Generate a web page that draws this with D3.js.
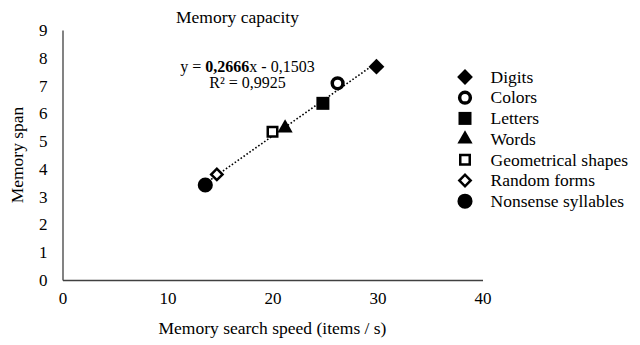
<!DOCTYPE html>
<html>
<head>
<meta charset="utf-8">
<script src="https://cdn.jsdelivr.net/npm/d3@7"></script>
<style>
  body { margin: 0; background: #fff; }
  svg { font-family: "Liberation Serif", "Times New Roman", serif; }
</style>
</head>
<body>
<div id="chart"></div>
<script>
// data
const categories = ["Digits", "Colors", "Letters", "Words", "Geometrical shapes", "Random forms", "Nonsense syllables"];
const searchSpeed = [29.9, 26.2, 24.8, 21.2, 20.0, 14.7, 13.6];
const memorySpan = [7.68, 7.08, 6.36, 5.47, 5.34, 3.80, 3.42];
const xTicks = [0, 10, 20, 30, 40];
const yTicks = [0, 1, 2, 3, 4, 5, 6, 7, 8, 9];
const trendSlope = 0.2666;
const trendIntercept = -0.1503;
const trendR2 = 0.9925;

// marker look per category (same order)
const markers = [
    { type: d3.symbolSquare, size: 125, rot: 45, fill: "#000", sw: 0 },
    { type: d3.symbolCircle, size: 90, rot: 0, fill: "#fff", sw: 3.5 },
    { type: d3.symbolSquare, size: 169, rot: 0, fill: "#000", sw: 0 },
    { type: d3.symbolTriangle, size: 100, rot: 0, fill: "#000", sw: 0 },
    { type: d3.symbolSquare, size: 90, rot: 0, fill: "#fff", sw: 2.5 },
    { type: d3.symbolSquare, size: 64, rot: 45, fill: "#fff", sw: 2.5 },
    { type: d3.symbolCircle, size: 180, rot: 0, fill: "#000", sw: 0 }
];

const width = 640, height = 345;
const svg = d3.select("#chart").append("svg")
    .attr("width", width)
    .attr("height", height);

const x = d3.scaleLinear().domain([0, 40]).range([62.5, 482.5]);
const y = d3.scaleLinear().domain([0, 9]).range([280, 30]);

const fmt = v => d3.format(".4f")(v).replace(".", ",");

// axes (no tick marks, just lines + labels)
const xAxis = svg.append("g")
    .attr("transform", "translate(0," + y(0) + ")")
    .call(d3.axisBottom(x).tickValues(xTicks).tickSize(0).tickPadding(12));
const yAxis = svg.append("g")
    .attr("transform", "translate(" + x(0) + ",0)")
    .call(d3.axisLeft(y).tickValues(yTicks).tickSize(0).tickPadding(15));

[xAxis, yAxis].forEach(a => {
    a.select(".domain").attr("stroke", "#404040").attr("stroke-width", 1.3);
    a.selectAll("text")
        .attr("font-family", "Liberation Serif")
        .attr("font-size", 17)
        .attr("fill", "#000");
});

// titles
svg.append("text")
    .attr("x", 237.5).attr("y", 23)
    .attr("text-anchor", "middle")
    .attr("font-size", 17.5)
    .text("Memory capacity");

svg.append("text")
    .attr("x", 272.5).attr("y", 334)
    .attr("text-anchor", "middle")
    .attr("font-size", 17.5)
    .text("Memory search speed (items / s)");

svg.append("text")
    .attr("transform", "translate(23,155) rotate(-90)")
    .attr("text-anchor", "middle")
    .attr("font-size", 17.5)
    .text("Memory span");

// trendline
const xMin = d3.min(searchSpeed), xMax = d3.max(searchSpeed);
svg.append("line")
    .attr("x1", x(xMin)).attr("y1", y(trendSlope * xMin + trendIntercept))
    .attr("x2", x(xMax)).attr("y2", y(trendSlope * xMax + trendIntercept))
    .attr("stroke", "#000")
    .attr("stroke-width", 1.6)
    .attr("stroke-dasharray", "1.6,2");

// equation label
const eq = svg.append("text")
    .attr("x", 247.5).attr("y", 72)
    .attr("text-anchor", "middle")
    .attr("font-size", 16);
eq.append("tspan").text("y = ");
eq.append("tspan").attr("font-weight", "bold").text(fmt(trendSlope));
eq.append("tspan").text("x - " + fmt(Math.abs(trendIntercept)));

svg.append("text")
    .attr("x", 247.5).attr("y", 88)
    .attr("text-anchor", "middle")
    .attr("font-size", 16)
    .text("R² = " + fmt(trendR2));

// points
const sym = d3.symbol();
const pts = categories.map((c, i) => ({ name: c, x: searchSpeed[i], y: memorySpan[i], m: markers[i] }));

svg.append("g").selectAll("path")
    .data(pts)
    .enter()
    .append("path")
    .attr("transform", d => "translate(" + x(d.x) + "," + y(d.y) + ") rotate(" + d.m.rot + ")")
    .attr("d", d => sym.type(d.m.type).size(d.m.size)())
    .attr("fill", d => d.m.fill)
    .attr("stroke", "#000")
    .attr("stroke-width", d => d.m.sw);

// legend
const legend = svg.append("g")
    .attr("transform", "translate(465,77)");

const item = legend.selectAll(".item")
    .data(pts)
    .enter()
    .append("g")
    .attr("class", "item")
    .attr("transform", (d, i) => "translate(0," + (i * 20.7) + ")");

item.append("path")
    .attr("transform", d => "rotate(" + d.m.rot + ")")
    .attr("d", d => sym.type(d.m.type).size(d.m.size)())
    .attr("fill", d => d.m.fill)
    .attr("stroke", "#000")
    .attr("stroke-width", d => d.m.sw);

item.append("text")
    .attr("x", 25.5)
    .attr("dy", "0.33em")
    .attr("font-size", 17.5)
    .text(d => d.name);
</script>
</body>
</html>
